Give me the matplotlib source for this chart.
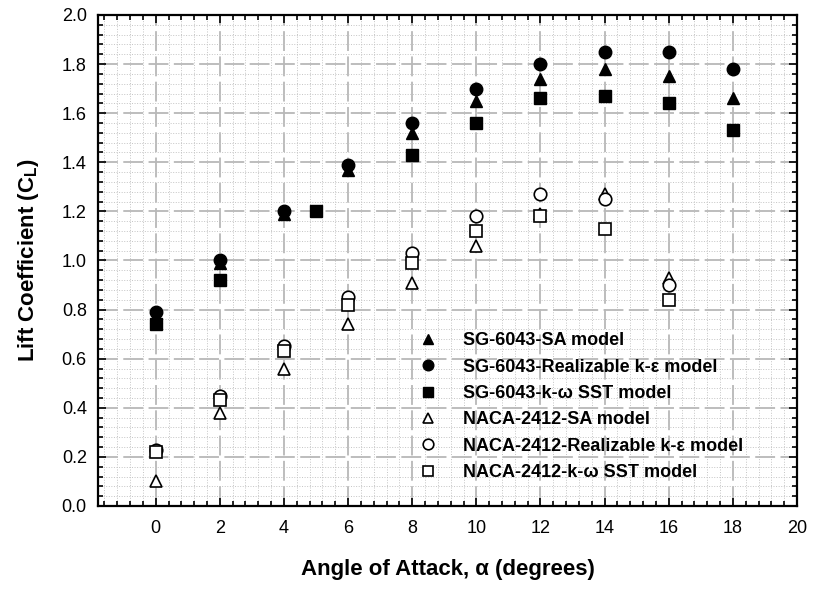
import matplotlib
matplotlib.use("Agg")
import matplotlib.pyplot as plt
from matplotlib.ticker import MultipleLocator, FormatStrFormatter

plt.rcParams["font.family"] = ["Liberation Sans", "DejaVu Sans"]
plt.rcParams["mathtext.fontset"] = "custom"
plt.rcParams["mathtext.rm"] = "Liberation Sans"
plt.rcParams["mathtext.bf"] = "Liberation Sans:bold"

# --- data ---
sg_sa_aoa = [0, 2, 4, 6, 8, 10, 12, 14, 16, 18]
sg_sa_cl = [0.77, 0.99, 1.19, 1.37, 1.52, 1.65, 1.74, 1.78, 1.75, 1.66]

sg_rke_aoa = [0, 2, 4, 6, 8, 10, 12, 14, 16, 18]
sg_rke_cl = [0.79, 1.00, 1.20, 1.39, 1.56, 1.70, 1.80, 1.85, 1.85, 1.78]

sg_sst_aoa = [0, 2, 5, 8, 10, 12, 14, 16, 18]
sg_sst_cl = [0.74, 0.92, 1.20, 1.43, 1.56, 1.66, 1.67, 1.64, 1.53]

naca_sa_aoa = [0, 2, 4, 6, 8, 10, 12, 14, 16]
naca_sa_cl = [0.10, 0.38, 0.56, 0.74, 0.91, 1.06, 1.19, 1.27, 0.93]

naca_rke_aoa = [0, 2, 4, 6, 8, 10, 12, 14, 16]
naca_rke_cl = [0.23, 0.45, 0.65, 0.85, 1.03, 1.18, 1.27, 1.25, 0.90]

naca_sst_aoa = [0, 2, 4, 6, 8, 10, 12, 14, 16]
naca_sst_cl = [0.22, 0.43, 0.63, 0.82, 0.99, 1.12, 1.18, 1.13, 0.84]

labels = [
    "SG-6043-SA model",
    "SG-6043-Realizable k-ε model",
    "SG-6043-k-ω SST model",
    "NACA-2412-SA model",
    "NACA-2412-Realizable k-ε model",
    "NACA-2412-k-ω SST model",
]

fig = plt.figure(figsize=(8.13, 5.90), dpi=100)
ax = fig.add_axes([0.1205, 0.1424, 0.8598, 0.8322])

ms = 9
filled = dict(linestyle="none", color="black", markersize=ms)
hollow = dict(linestyle="none", color="black", markerfacecolor="white",
              markeredgewidth=1.2, markersize=ms)

ax.plot(sg_sa_aoa, sg_sa_cl, marker="^", label=labels[0], **filled)
ax.plot(sg_rke_aoa, sg_rke_cl, marker="o", label=labels[1], **filled)
ax.plot(sg_sst_aoa, sg_sst_cl, marker="s", label=labels[2], **filled)
ax.plot(naca_sa_aoa, naca_sa_cl, marker="^", label=labels[3], **hollow)
ax.plot(naca_rke_aoa, naca_rke_cl, marker="o", label=labels[4], **hollow)
ax.plot(naca_sst_aoa, naca_sst_cl, marker="s", label=labels[5], **hollow)

ax.set_xlim(-1.8, 20)
ax.set_ylim(0, 2.0)
ax.xaxis.set_major_locator(MultipleLocator(2))
ax.xaxis.set_minor_locator(MultipleLocator(0.4))
ax.yaxis.set_major_locator(MultipleLocator(0.2))
ax.yaxis.set_minor_locator(MultipleLocator(0.04))
ax.yaxis.set_major_formatter(FormatStrFormatter("%.1f"))

ax.grid(which="minor", color="#c4c4c4", linestyle=":", linewidth=0.7)
ax.grid(which="major", color="#b8b8b8", linestyle=(0, (11, 3)), linewidth=1.3)
ax.set_axisbelow(True)

ax.tick_params(which="both", direction="in", top=True, right=True,
               labelsize=13, width=1.2)
ax.tick_params(axis="x", which="major", pad=10)
ax.tick_params(axis="y", which="major", pad=8)
ax.tick_params(which="major", length=6)
ax.tick_params(which="minor", length=3.5)
for sp in ax.spines.values():
    sp.set_linewidth(1.6)

ax.set_xlabel("Angle of Attack, α (degrees)", fontsize=16, fontweight="bold")
ax.set_ylabel(r"Lift Coefficient (C$_\mathbf{L}$)", fontsize=16, fontweight="bold")
ax.xaxis.set_label_coords(0.5, -0.107)
ax.yaxis.set_label_coords(-0.082, 0.5)

ax.legend(loc="lower left", bbox_to_anchor=(0.436, 0.036), frameon=False,
          prop=dict(size=13, weight="bold"), handletextpad=0.94,
          labelspacing=0.52, borderaxespad=0.0, markerscale=0.85)

fig.savefig("out.png", dpi=100)
